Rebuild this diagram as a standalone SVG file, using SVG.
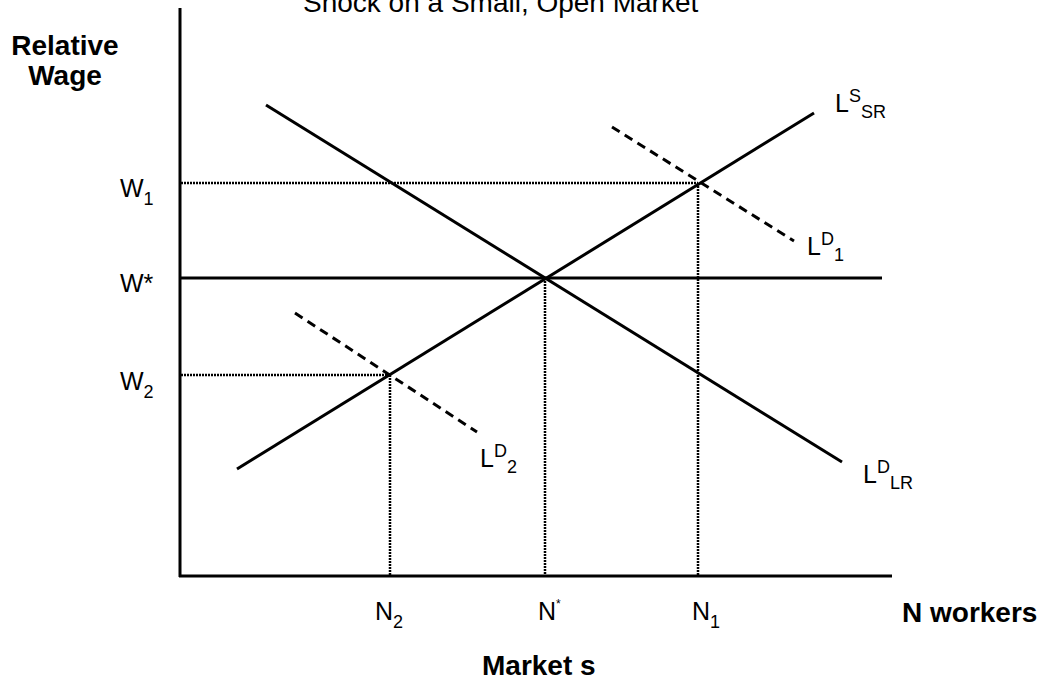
<svg xmlns="http://www.w3.org/2000/svg" width="1046" height="688" viewBox="0 0 1046 688">
<style>
text{font-family:"Liberation Sans",Arial,sans-serif;fill:#000}
.r{font-size:25px}
.b{font-size:28px;font-weight:bold}
.t{font-size:28px}
.s{font-size:18px}
.solid{stroke:#000;stroke-width:3;fill:none}
.dash{stroke:#000;stroke-width:3;fill:none;stroke-dasharray:9 6}
.dot{stroke:#000;stroke-width:2.5;fill:none;stroke-dasharray:2 1}
</style>
<rect width="1046" height="688" fill="#fff"/>
<g id="connectors">
<line id="y-axis" class="solid" x1="180" y1="8" x2="180" y2="577"/>
<line id="x-axis" class="solid" x1="179" y1="576" x2="892" y2="576"/>
<line id="wstar-line" class="solid" x1="180" y1="278" x2="882" y2="278"/>
<line id="ls-sr" class="solid" x1="237" y1="469" x2="814" y2="113"/>
<line id="ld-lr" class="solid" x1="266" y1="105" x2="842" y2="462"/>
<line id="ld1" class="dash" x1="612" y1="127" x2="794" y2="241"/>
<line id="ld2" class="dash" x1="295" y1="313" x2="477" y2="432"/>
<line class="dot" x1="181" y1="183" x2="698" y2="183"/>
<line class="dot" x1="698" y1="183" x2="698" y2="575"/>
<line class="dot" x1="181" y1="375" x2="390" y2="375"/>
<line class="dot" x1="390" y1="375" x2="390" y2="575"/>
<line class="dot" x1="545" y1="278" x2="545" y2="575"/>
</g>
<g id="title"><text class="t" x="303" y="12">Shock on a Small, Open Market</text></g>
<g id="y-label"><text class="b" x="65" y="55" text-anchor="middle">Relative</text><text class="b" x="65" y="85" text-anchor="middle">Wage</text></g>
<g id="w1"><text class="r" x="120" y="197">W<tspan class="s" dy="8">1</tspan></text></g>
<g id="wstar"><text class="r" x="120" y="292">W*</text></g>
<g id="w2"><text class="r" x="120" y="390">W<tspan class="s" dy="8">2</tspan></text></g>
<g id="n2"><text class="r" x="375" y="620">N<tspan class="s" dy="8">2</tspan></text></g>
<g id="nstar"><text class="r" x="538" y="620">N<tspan font-size="12" dy="-12">*</tspan></text></g>
<g id="n1"><text class="r" x="692" y="620">N<tspan class="s" dy="8">1</tspan></text></g>
<g id="x-label"><text class="b" x="902" y="622">N workers</text></g>
<g id="market"><text class="b" x="482" y="675">Market s</text></g>
<g id="lbl-ls-sr"><text class="r" x="835" y="112">L<tspan class="s" dy="-10">S</tspan><tspan class="s" dy="16">SR</tspan></text></g>
<g id="lbl-ld1"><text class="r" x="807" y="255">L<tspan class="s" dy="-10">D</tspan><tspan class="s" dy="16">1</tspan></text></g>
<g id="lbl-ld2"><text class="r" x="480" y="467">L<tspan class="s" dy="-10">D</tspan><tspan class="s" dy="16">2</tspan></text></g>
<g id="lbl-ld-lr"><text class="r" x="863" y="483">L<tspan class="s" dy="-10">D</tspan><tspan class="s" dy="16">LR</tspan></text></g>
</svg>
